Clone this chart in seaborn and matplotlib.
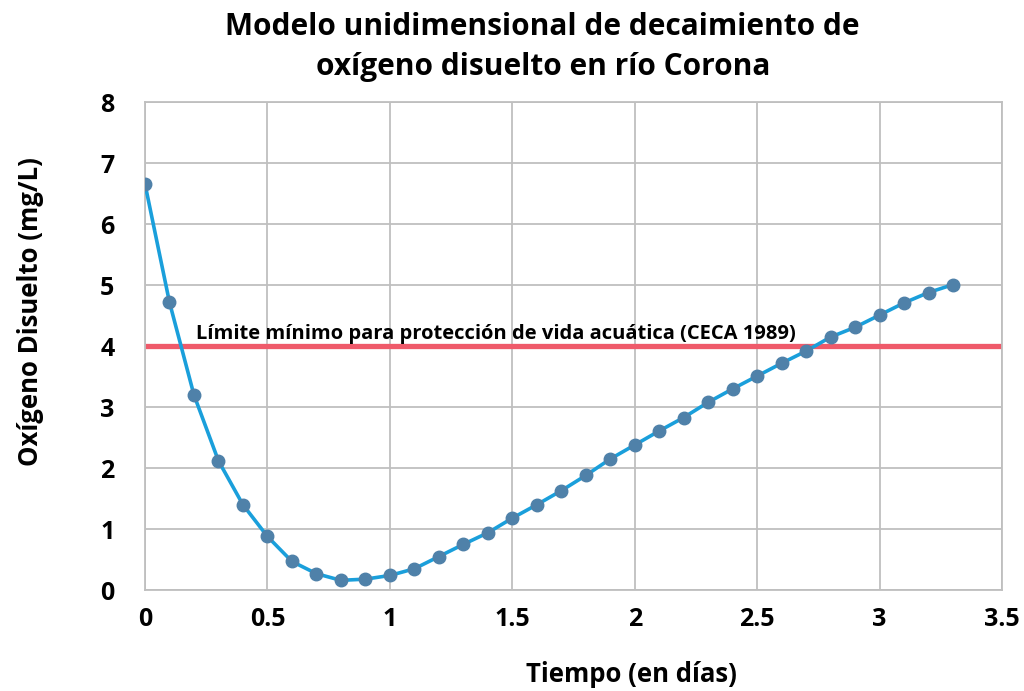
import numpy as np
import pandas as pd
import matplotlib
matplotlib.use("Agg")
import matplotlib.pyplot as plt
import seaborn as sns

# Datos
tiempo = [0.0, 0.1, 0.2, 0.3, 0.4, 0.5, 0.6, 0.7, 0.8, 0.9, 1.0, 1.1, 1.2,
          1.3, 1.4, 1.5, 1.6, 1.7, 1.8, 1.9, 2.0, 2.1, 2.2, 2.3, 2.4, 2.5,
          2.6, 2.7, 2.8, 2.9, 3.0, 3.1, 3.2, 3.3]
oxigeno = [6.66, 4.72, 3.20, 2.12, 1.40, 0.88, 0.47, 0.27, 0.16, 0.18, 0.24,
           0.35, 0.55, 0.75, 0.94, 1.18, 1.40, 1.63, 1.88, 2.15, 2.38, 2.61,
           2.83, 3.08, 3.30, 3.51, 3.72, 3.92, 4.15, 4.31, 4.51, 4.71, 4.88, 5.01]
limite = 4.0

data = pd.DataFrame({"Tiempo": tiempo, "OD": oxigeno})

sns.set_style("white")
plt.rcParams['font.family'] = ['Open Sans', 'DejaVu Sans']
plt.rcParams['font.weight'] = 'bold'
plt.rcParams['text.color'] = 'black'
plt.rcParams['axes.labelcolor'] = 'black'
plt.rcParams['xtick.color'] = 'black'
plt.rcParams['ytick.color'] = 'black'

fig = plt.figure(figsize=(10.24, 6.91), dpi=100)
ax = fig.add_axes([0.1416, 0.146, 0.8369, 0.706])

# Línea límite
ax.axhline(limite, color="#EF5A6A", lw=3.8, zorder=2)
ax.text(0.21, 4.12, "Límite mínimo para protección de vida acuática (CECA 1989)",
        fontsize=14.5, fontweight="bold", color="black", zorder=4)

sns.lineplot(data=data, x="Tiempo", y="OD", ax=ax, color="#1A9FDB", lw=2.6,
             zorder=3)
ax.plot(tiempo, oxigeno, ls="none", marker="o", ms=9, color="#4F81A9",
        zorder=4)

ax.set_xlim(0, 3.5)
ax.set_ylim(0, 8)
ax.set_xticks(np.arange(0, 3.51, 0.5))
ax.set_xticklabels(["0", "0.5", "1", "1.5", "2", "2.5", "3", "3.5"])
ax.set_yticks(range(0, 9))
ax.tick_params(axis="x", labelsize=18, length=0, pad=12)
ax.tick_params(axis="y", labelsize=18, length=0, pad=22)
for lbl in ax.get_xticklabels() + ax.get_yticklabels():
    lbl.set_fontweight("bold")

ax.grid(True, color="#BFBFBF", lw=1.3)
for s in ax.spines.values():
    s.set_color("#BFBFBF")
    s.set_linewidth(1.3)

ax.set_xlabel("Tiempo (en días)", fontsize=18.5, fontweight="bold")
ax.xaxis.set_label_coords(0.568, -0.145)
ax.set_ylabel("Oxígeno Disuelto (mg/L)", fontsize=18.5, fontweight="bold")
ax.yaxis.set_label_coords(-0.118, 0.57)

fig.suptitle("Modelo unidimensional de decaimiento de\noxígeno disuelto en río Corona",
             fontsize=21.5, fontweight="bold", x=0.53, y=0.983, linespacing=1.45)

fig.savefig("out.png", dpi=100)
